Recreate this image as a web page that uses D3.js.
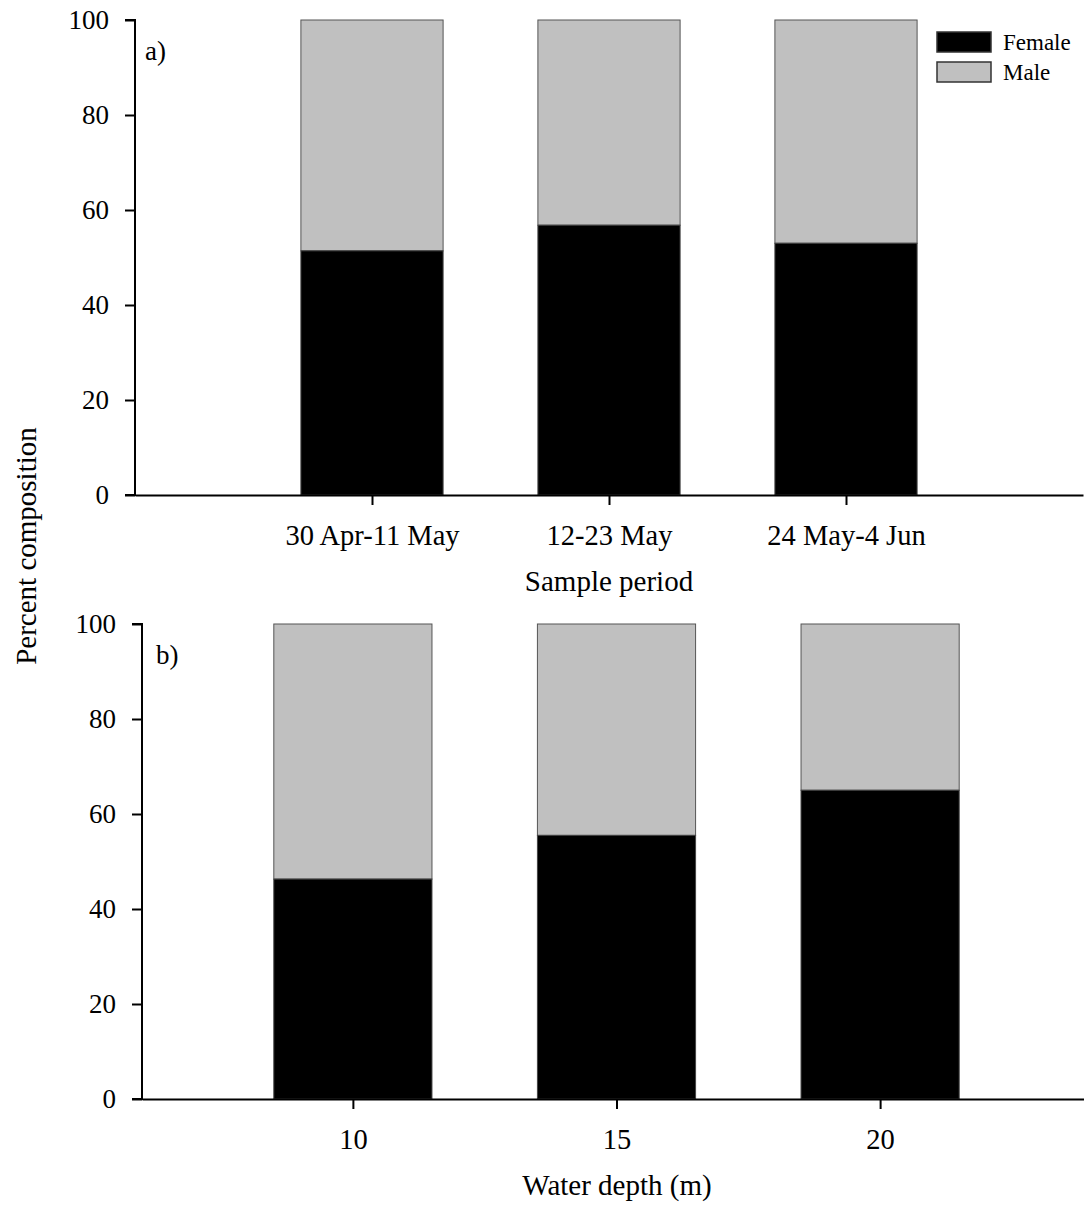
<!DOCTYPE html>
<html>
<head>
<meta charset="utf-8">
<script src="https://cdn.jsdelivr.net/npm/d3@7"></script>
<style>
  body { margin: 0; background: #fff; }
  svg text { font-family: "Liberation Serif", "Times New Roman", serif; fill: #000; }
</style>
</head>
<body>
<svg id="chart" width="1084" height="1207"></svg>
<script>
// panel a: sample period
var periods = ["30 Apr-11 May", "12-23 May", "24 May-4 Jun"];
var periodFemale = [51.4, 56.8, 53.0];
// panel b: water depth
var depths = [10, 15, 20];
var depthFemale = [46.3, 55.5, 65.0];
var yTicks = [0, 20, 40, 60, 80, 100];

var svg = d3.select("#chart");
var grey = "#c0c0c0";

function drawPanel(opt) {
    var g = svg.append("g");
    var x = opt.x, y = opt.y;

    // bars: female stacked under male
    opt.keys.forEach(function (k, i) {
        var cx = x(opt.pos[i]);
        var w = x(opt.pos[i] + opt.barW / 2) - x(opt.pos[i] - opt.barW / 2);
        g.append("rect")
            .attr("x", cx - w / 2).attr("width", w)
            .attr("y", y(100)).attr("height", y(opt.female[i]) - y(100))
            .attr("fill", grey).attr("stroke", "#555").attr("stroke-width", 1);
        g.append("rect")
            .attr("x", cx - w / 2).attr("width", w)
            .attr("y", y(opt.female[i])).attr("height", y(0) - y(opt.female[i]))
            .attr("fill", "#000").attr("stroke", "#444").attr("stroke-width", 1);
    });

    var yAxis = g.append("g")
        .attr("transform", "translate(" + x.range()[0] + ",0)")
        .call(d3.axisLeft(y).tickValues(yTicks).tickSize(10).tickPadding(16));
    var xAxis = g.append("g")
        .attr("transform", "translate(0," + y(0) + ")")
        .call(d3.axisBottom(x).tickValues(opt.pos).tickFormat(function (d, i) { return opt.keys[i]; })
            .tickSize(10).tickSizeOuter(0).tickPadding(20));

    [yAxis, xAxis].forEach(function (a) {
        a.select(".domain").attr("stroke", "#000").attr("stroke-width", 2);
        a.selectAll(".tick line").attr("stroke", "#000").attr("stroke-width", 2);
        a.selectAll("text").attr("font-size", a === yAxis ? 27 : 28.5)
            .attr("font-family", "Liberation Serif, serif").attr("fill", "#000");
    });
    yAxis.select(".domain").attr("d", "M-10," + y(100) + "H0V" + y(0) + "H-10");

    g.append("text")
        .attr("x", x.range()[0] + opt.tagDx).attr("y", y(100) + 40)
        .attr("font-size", 27).text(opt.tag);

    g.append("text")
        .attr("x", opt.titleX).attr("y", y(0) + 96)
        .attr("text-anchor", "middle")
        .attr("font-size", 29).text(opt.title);
}

drawPanel({
    x: d3.scaleLinear().domain([0, 4]).range([135, 1083]),
    y: d3.scaleLinear().domain([0, 100]).range([495, 20]),
    keys: periods, pos: [1, 2, 3], barW: 0.6, tagDx: 10,
    female: periodFemale, tag: "a)", title: "Sample period", titleX: 609
});

drawPanel({
    x: d3.scaleLinear().domain([6, 24]).range([142, 1091]),
    y: d3.scaleLinear().domain([0, 100]).range([1099, 624]),
    keys: depths, pos: depths, barW: 3, tagDx: 14,
    female: depthFemale, tag: "b)", title: "Water depth (m)", titleX: 617
});

// shared y title
svg.append("text")
    .attr("transform", "translate(36,546) rotate(-90)")
    .attr("text-anchor", "middle")
    .attr("font-size", 29).text("Percent composition");

// legend
var legend = svg.append("g").attr("transform", "translate(937,32)");
[["Female", "#000"], ["Male", grey]].forEach(function (d, i) {
    legend.append("rect")
        .attr("x", 0).attr("y", i * 30).attr("width", 54).attr("height", 20)
        .attr("fill", d[1]).attr("stroke", "#333").attr("stroke-width", 1.5);
    legend.append("text")
        .attr("x", 66).attr("y", i * 30 + 18)
        .attr("font-size", 23).text(d[0]);
});
</script>
</body>
</html>
